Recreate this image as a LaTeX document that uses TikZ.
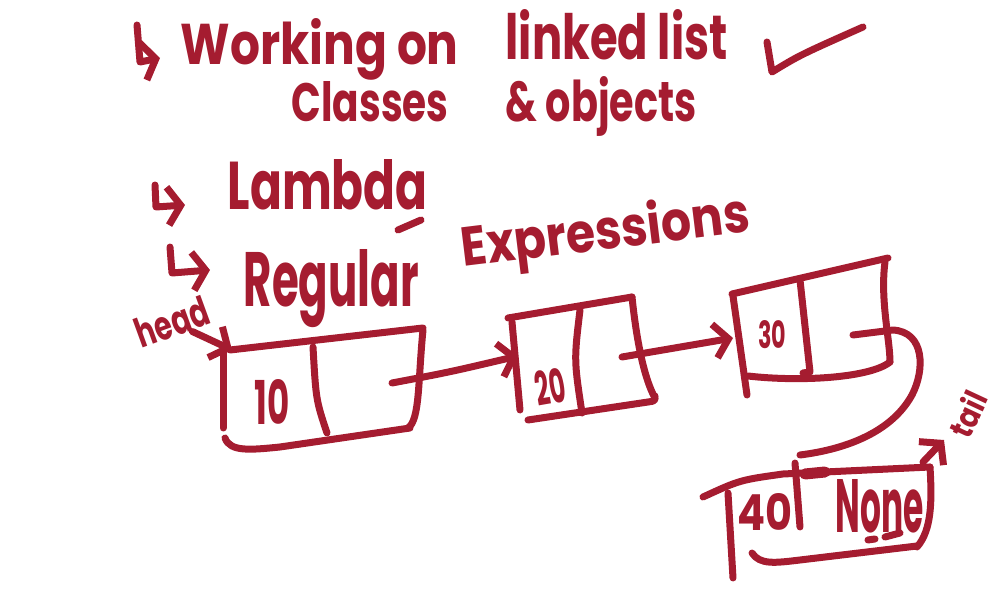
\documentclass[tikz,border=0pt]{standalone}
\usepackage{fontspec}
\setmainfont{Poppins}
\usepackage{tikz}
\usetikzlibrary{arrows.meta}

\definecolor{ink}{RGB}{165,28,48}
\newcommand{\scrawl}[3]{\resizebox{#1}{#2}{#3}}

\begin{document}
\begin{tikzpicture}[x=0.1mm,y=-0.1mm,
pen/.style={draw=ink,line width=0.7mm,line cap=round,line join=round},
hand/.style={text=ink,inner sep=0pt,font=\bfseries},
hook/.style={pen,-{Straight Barb[length=1.3mm,width=3.8mm]}},
ptr/.style={pen,-{Straight Barb[length=1.4mm,width=3.4mm]}}]
\useasboundingbox (0,0) rectangle (1000,600);

\node[hand,anchor=base west] (working) at (180,65) {\scrawl{27.8mm}{4.6mm}{Working on}};
\node[hand,anchor=base west] (linked) at (505,60) {\scrawl{22.2mm}{5mm}{linked list}};
\node[hand,anchor=base west] (classes) at (291,122) {\scrawl{15.7mm}{4mm}{Classes}};
\node[hand,anchor=base west] (objects) at (505,122) {\scrawl{19.1mm}{4.5mm}{\& objects}};
\node[hand,anchor=base west] (lambda) at (227,210) {\scrawl{20mm}{5mm}{Lambda}};
\node[hand,anchor=base west] (regular) at (243,307) {\scrawl{17.5mm}{5.7mm}{Regular}};
\node[hand,anchor=base west,rotate=7] (expr) at (463,267) {\scrawl{29mm}{4.4mm}{Expressions}};

\draw[hook] (137,25) -- (140,62) -- (160,58);
\draw[hook] (155,185) -- (156,207) -- (185,205);
\draw[hook] (170,247) -- (172,273) -- (210,270);
\draw[pen] (398,230) -- (421,220);
\draw[pen] (767,42) -- (772,72) .. controls (800,55) .. (863,27);

\node[hand,rotate=20] (head) at (172,322) {\scrawl{7.5mm}{3mm}{head}};
\coordinate (n1in) at (232,350);
\draw[pen] (230,350) -- (423,328);
\draw[pen] (223,352) -- (223,428);
\draw[pen] (423,330) .. controls (418,380) and (420,420) .. (408,428);
\draw[pen] (225,438) .. controls (230,452) and (250,450) .. (280,447) -- (410,428);
\draw[pen] (313,347) .. controls (316,400) .. (327,433);
\node[hand] (ten) at (272,402) {\scrawl{3.5mm}{4.5mm}{10}};
\coordinate (n1out) at (392,383);

\coordinate (n2in) at (518,356);
\draw[pen] (508,318) -- (632,297);
\draw[pen] (512,322) -- (520,410);
\draw[pen] (632,297) .. controls (637,345) and (645,380) .. (655,398);
\draw[pen] (528,420) -- (648,402) .. controls (655,401) .. (655,396);
\draw[pen] (580,310) .. controls (574,360) .. (582,413);
\node[hand,rotate=10] (twenty) at (550,387) {\scrawl{3mm}{3.5mm}{20}};
\coordinate (n2out) at (622,357);

\coordinate (n3in) at (733,338);
\draw[pen] (732,294) -- (888,258);
\draw[pen] (733,296) -- (747,395);
\draw[pen] (885,262) .. controls (880,300) and (890,340) .. (890,362);
\draw[pen] (748,376) .. controls (800,382) and (870,378) .. (890,362);
\draw[pen] (800,280) -- (810,372) -- (803,373);
\node[hand] (thirty) at (772,335) {\scrawl{2.8mm}{2.8mm}{30}};
\coordinate (n3out) at (853,335);

\coordinate (n4in) at (800,455);
\draw[pen] (703,497) .. controls (740,480) .. (783,474) -- (930,467);
\draw[pen,line width=1.1mm] (805,474) -- (825,472);
\draw[pen] (728,493) -- (733,578);
\draw[pen] (930,467) .. controls (932,500) and (932,530) .. (917,547);
\draw[pen] (752,553) .. controls (760,565) and (775,563) .. (800,560) -- (917,546);
\draw[pen] (795,463) -- (800,527);
\node[hand] (forty) at (765,512) {\scrawl{5.5mm}{3.7mm}{40}};
\node[hand,anchor=base west] (none) at (835,533) {\scrawl{8.8mm}{5.3mm}{None}};
\draw[pen] (868,540) -- (875,539);
\draw[pen] (885,537) -- (900,533);
\coordinate (n4out) at (923,462);

\node[hand,rotate=65] (tail) at (968,414) {\scrawl{4.6mm}{2.6mm}{tail}};

\draw[ptr] (head) -- (n1in);
\draw[ptr] (n1out) .. controls (450,372) .. (n2in);
\draw[ptr] (n2out) -- (n3in);
\draw[pen] (n3out) -- (893,330) .. controls (925,332) and (925,370) .. (912,395) .. controls (890,435) and (840,450) .. (n4in);
\draw[ptr] (n4out) -- (944,440);
\end{tikzpicture}
\end{document}
